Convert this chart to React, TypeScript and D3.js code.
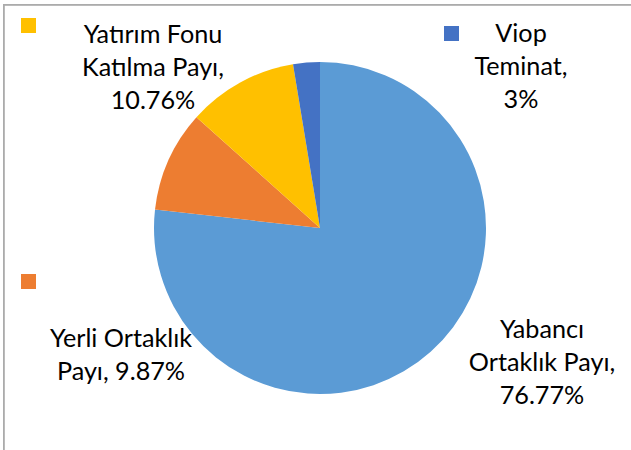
import React from "react";
import * as d3 from "d3";

const categories = ["Yabancı Ortaklık Payı", "Yerli Ortaklık Payı", "Yatırım Fonu Katılma Payı", "Viop Teminat"];
const values = [76.77, 9.87, 10.76, 2.6];
const valueLabels = ["76.77%", "9.87%", "10.76%", "3%"];
const colors = ["#5B9BD5", "#ED7D31", "#FFC000", "#4472C4"];
// label text lines (category wrapped + value)
const labelLines = [
  ["Yabancı", "Ortaklık Payı,", "76.77%"],
  ["Yerli Ortaklık", "Payı, 9.87%"],
  ["Yatırım Fonu", "Katılma Payı,", "10.76%"],
  ["Viop", "Teminat,", "3%"],
];

const W = 631;
const H = 450;
const cx = 320;
const cy = 228;
const R = 166;

// label layout: text center x, first baseline y, legend key position
const labelLayout = [
  { x: 542, y: 338, key: null as null | [number, number] },
  { x: 121, y: 347, key: [21, 274] as [number, number] },
  { x: 153, y: 43, key: [21, 18] as [number, number] },
  { x: 521, y: 42, key: [444, 26] as [number, number] },
];

export default function App() {
  const pie = d3.pie<number>().sort(null).value((d) => d);
  const arcs = pie(values);
  const arc = d3.arc<d3.PieArcDatum<number>>().innerRadius(0).outerRadius(R);
  const lineH = 33;
  return (
    <svg width={W} height={H} style={{ position: "absolute", left: 0, top: 0, background: "#fff" }}>
      <rect x={0} y={0} width={W} height={H} fill="#fff" />
      <rect x={3.9} y={4.9} width={900} height={900} fill="none" stroke="#ABABAB" strokeWidth={1.8} />
      <g transform={`translate(${cx},${cy})`}>
        {arcs.map((a, i) => (
          <path key={categories[i]} d={arc(a) || ""} fill={colors[i]} />
        ))}
      </g>
      {labelLines.map((lines, i) => {
        const L = labelLayout[i];
        return (
          <g key={categories[i]}>
            {L.key && (
              <rect x={L.key[0]} y={L.key[1]} width={15} height={15} fill={colors[i]} />
            )}
            <text
              textAnchor="middle"
              fontFamily="Lato, 'Open Sans', sans-serif"
              fontSize={25.2}
              fill="#000"
            >
              {lines.map((t, j) => (
                <tspan key={j} x={L.x} y={L.y + j * lineH}>
                  {t}
                </tspan>
              ))}
            </text>
          </g>
        );
      })}
      <desc>{valueLabels.join(",")}</desc>
    </svg>
  );
}
